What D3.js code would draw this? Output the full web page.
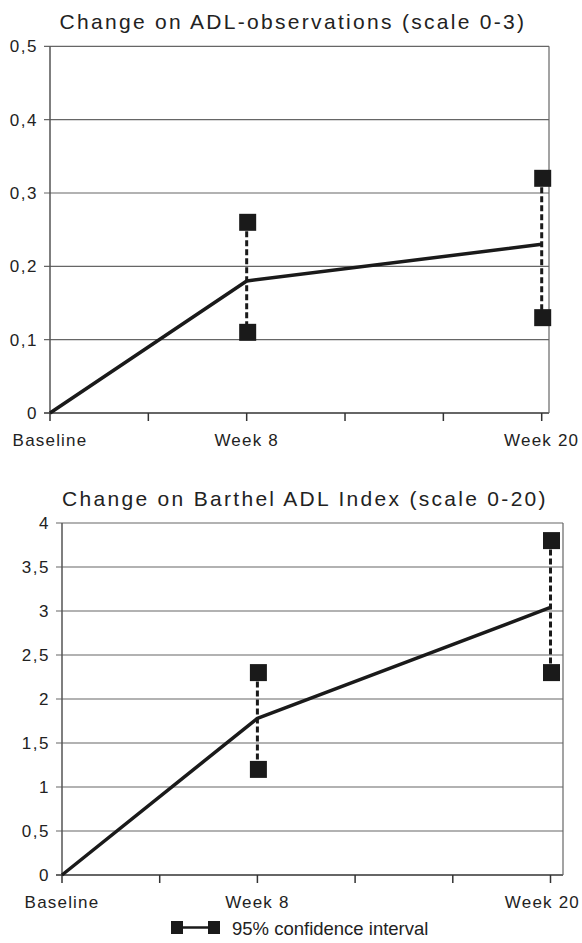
<!DOCTYPE html>
<html>
<head>
<meta charset="utf-8">
<script src="https://cdn.jsdelivr.net/npm/d3@7"></script>
<style>
  body { margin: 0; background: #fff; }
  svg text { font-family: "Liberation Sans", Arial, sans-serif; fill: #222; }
</style>
</head>
<body>
<svg id="chart" width="582" height="943"></svg>
<script>
// x positions (weeks) and their labels
const weeks = [0, 8, 20];
const weekLabels = ["Baseline", "Week 8", "Week 20"];
const weekTicks = [0, 4, 8, 12, 16, 20];

// ADL-observations (scale 0-3)
const adlMean = [0, 0.18, 0.23];
const adlLower = [null, 0.11, 0.13];
const adlUpper = [null, 0.26, 0.32];
const adlTicks = [0, 0.1, 0.2, 0.3, 0.4, 0.5];

// Barthel ADL Index (scale 0-20)
const barthelMean = [0, 1.78, 3.04];
const barthelLower = [null, 1.2, 2.3];
const barthelUpper = [null, 2.3, 3.8];
const barthelTicks = [0, 0.5, 1, 1.5, 2, 2.5, 3, 3.5, 4];

const svg = d3.select("#chart");
const fmt = d => String(d).replace(".", ",");

function drawPanel(opt) {
  let g = svg.append("g");

  let x = d3.scaleLinear().domain([0, 20]).range([opt.left, opt.tickEnd]);
  let y = d3.scaleLinear().domain([0, opt.ticks[opt.ticks.length - 1]]).range([opt.bottom, opt.top]);

  // title
  g.append("text")
    .attr("x", opt.titleX)
    .attr("y", opt.top - 17)
    .attr("text-anchor", "middle")
    .style("font-size", "21px")
    .style("letter-spacing", "2.3px")
    .text(opt.title);

  // horizontal grid lines
  g.selectAll(".grid")
    .data(opt.ticks)
    .enter().append("line")
    .attr("x1", opt.left - 6)
    .attr("x2", opt.right)
    .attr("y1", d => y(d))
    .attr("y2", d => y(d))
    .attr("stroke", d => d === 0 ? "#333" : "#666")
    .attr("stroke-width", d => d === 0 ? 1.5 : 1.2);

  // y labels
  g.selectAll(".ylab")
    .data(opt.ticks)
    .enter().append("text")
    .attr("x", opt.left - 12)
    .attr("y", d => y(d))
    .attr("dy", "0.36em")
    .attr("text-anchor", "end")
    .style("font-size", "17px")
    .style("letter-spacing", "1.5px")
    .text(fmt);

  // left axis and right border
  g.append("line")
    .attr("x1", opt.left).attr("x2", opt.left)
    .attr("y1", opt.top).attr("y2", opt.bottom)
    .attr("stroke", "#555").attr("stroke-width", 1.5);
  g.append("line")
    .attr("x1", opt.right).attr("x2", opt.right)
    .attr("y1", opt.top).attr("y2", opt.bottom)
    .attr("stroke", "#666").attr("stroke-width", 1.2);

  // x ticks
  g.selectAll(".xtick")
    .data(weekTicks)
    .enter().append("line")
    .attr("x1", d => x(d)).attr("x2", d => x(d))
    .attr("y1", opt.bottom).attr("y2", opt.bottom + 8)
    .attr("stroke", "#333").attr("stroke-width", 1.5);

  // x labels (kept inside the page edge)
  g.selectAll(".xlab")
    .data(weeks)
    .enter().append("text")
    .attr("x", d => x(d))
    .attr("y", opt.bottom + 33)
    .attr("text-anchor", "middle")
    .style("font-size", "17px")
    .style("letter-spacing", "1.2px")
    .text((d, i) => weekLabels[i])
    .each(function() {
      let b = this.getBBox();
      if (b.x + b.width > 580) {
        d3.select(this).attr("x", +d3.select(this).attr("x") - (b.x + b.width - 580));
      }
    });

  // confidence intervals
  let ci = weeks.map((w, i) => ({ w: w, lo: opt.lower[i], hi: opt.upper[i] }))
    .filter(d => d.lo !== null);

  g.selectAll(".ci")
    .data(ci)
    .enter().append("line")
    .attr("x1", d => x(d.w)).attr("x2", d => x(d.w))
    .attr("y1", d => y(d.hi)).attr("y2", d => y(d.lo))
    .attr("stroke", "#1a1a1a")
    .attr("stroke-width", 3)
    .attr("stroke-dasharray", "6,3");

  // mean line
  let line = d3.line()
    .x((d, i) => x(weeks[i]))
    .y(d => y(d));
  g.append("path")
    .datum(opt.mean)
    .attr("d", line)
    .attr("fill", "none")
    .attr("stroke", "#1a1a1a")
    .attr("stroke-width", 3.5)
    .attr("stroke-linejoin", "round");

  // CI end squares
  let s = 17;
  let ends = [];
  ci.forEach(d => { ends.push({ w: d.w, v: d.hi }); ends.push({ w: d.w, v: d.lo }); });
  g.selectAll(".sq")
    .data(ends)
    .enter().append("rect")
    .attr("x", d => x(d.w) - s / 2 + 1)
    .attr("y", d => y(d.v) - s / 2)
    .attr("width", s)
    .attr("height", s)
    .attr("fill", "#1a1a1a");
}

drawPanel({
  title: "Change on ADL-observations (scale 0-3)",
  titleX: 293,
  left: 50, tickEnd: 541.7, right: 549,
  top: 46.3, bottom: 413,
  ticks: adlTicks,
  mean: adlMean, lower: adlLower, upper: adlUpper
});

drawPanel({
  title: "Change on Barthel ADL Index (scale 0-20)",
  titleX: 305,
  left: 62, tickEnd: 550.5, right: 563,
  top: 523, bottom: 875,
  ticks: barthelTicks,
  mean: barthelMean, lower: barthelLower, upper: barthelUpper
});

// legend
let lg = svg.append("g");
lg.append("rect").attr("x", 171).attr("y", 921).attr("width", 12).attr("height", 13).attr("fill", "#1a1a1a");
lg.append("line").attr("x1", 183).attr("x2", 208).attr("y1", 927.5).attr("y2", 927.5)
  .attr("stroke", "#1a1a1a").attr("stroke-width", 2.5);
lg.append("rect").attr("x", 208).attr("y", 921).attr("width", 12).attr("height", 13).attr("fill", "#1a1a1a");
lg.append("text")
  .attr("x", 232).attr("y", 935)
  .style("font-size", "18.5px")
  .text("95% confidence interval");
</script>
</body>
</html>
